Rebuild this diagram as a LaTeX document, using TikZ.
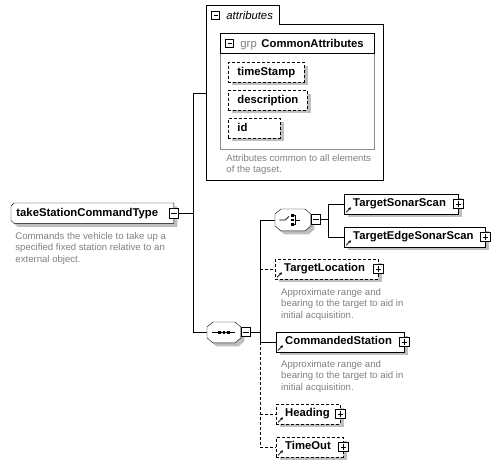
\documentclass[tikz,border=0pt]{standalone}
\usepackage{fontspec}
\setmainfont{Liberation Sans}
\usetikzlibrary{shadows,arrows.meta}
\pgfdeclarelayer{bg}
\pgfsetlayers{bg,main}

\begin{document}
\begin{tikzpicture}[x=1pt, y=-1pt, line width=0.9pt,
    shadowed/.style={drop shadow={shadow xshift=3.5pt, shadow yshift=-3.5pt, fill=black!25, opacity=1}},
    textbox/.style={anchor=north west, minimum height=19.5pt, inner xsep=9pt, inner ysep=0pt,
        align=left, text height=8.3pt, text depth=2.4pt, font=\fontsize{11.3}{13}\selectfont\bfseries},
    box/.style={textbox, draw, fill=white, shadowed},
    opt/.style={box, dash pattern=on 3pt off 2pt},
    comp/.style={anchor=north west, minimum width=35pt, minimum height=21pt, inner sep=0pt},
    pm/.style={draw, fill=white, solid, minimum size=9.5pt, inner sep=0pt, line width=0.8pt},
    plus/.style={pm, path picture={
        \draw ([xshift=2pt]path picture bounding box.west) -- ([xshift=-2pt]path picture bounding box.east)
              ([yshift=-2pt]path picture bounding box.north) -- ([yshift=2pt]path picture bounding box.south);}},
    minus/.style={pm, path picture={
        \draw ([xshift=2pt]path picture bounding box.west) -- ([xshift=-2pt]path picture bounding box.east);}},
    desc/.style={anchor=north west, inner sep=0pt, align=left, text=black!50, font=\fontsize{9.6}{11.5}\selectfont}]

    \useasboundingbox (0,0) rectangle (500,466);

    % Attributes tab box
    \draw (206,5) -- (279,5) -- (279,24) -- (383,24) -- (383,180) -- (206,180) -- cycle;
    \coordinate (attrin) at (206,93);
    \node[minus, minimum size=8pt] (attrm) at (215.5,15.5) {};
    \node[anchor=base west, inner sep=0pt, font=\fontsize{11.3}{13}\selectfont\itshape] (attrl) at (226,19.5) {attributes};

    % Attribute group
    \draw[black!45] (220,33) rectangle (374,149);
    \draw (220,33) rectangle (374,53);
    \node[minus, minimum size=8pt] (grpm) at (229.5,43) {};
    \node[anchor=base west, inner sep=0pt, text=black!50, font=\fontsize{11.3}{13}\selectfont] (grpl) at (240,47.5) {grp};
    \node[anchor=base west, inner sep=0pt, font=\fontsize{11.3}{13}\selectfont\bfseries] (grpn) at (261,47.5) {CommonAttributes};

    \node[opt, text width=58pt] (tstamp) at (228,62) {timeStamp};
    \node[opt, text width=61pt] (descr) at (228,90) {description};
    \node[opt, text width=34pt] (ident) at (228,118) {id};
    \node[desc] (attrd) at (226,154) {Attributes common to all elements\\of the tagset.};

    % Root type
    \node[textbox, inner xsep=5pt, text width=152pt] (tsc) at (11,203) {takeStationCommandType};
    \node[minus] (tscm) at (tsc.east) {};
    \node[desc] (tscd) at (15,232) {Commands the vehicle to take up a\\specified fixed station relative to an\\external object.};

    % Compositors
    \node[comp] (choice) at (275,209) {};
    \node[minus] (choicem) at (316,219.5) {};
    \node[comp, minimum width=33pt, minimum height=20pt] (seq) at (207,322) {};
    \node[minus] (seqm) at (246,332) {};

    % cut corner outlines
    \begin{pgfonlayer}{bg}
        \draw[fill=white, shadowed] ([xshift=3pt]tsc.north west) -- (tsc.north east) -- (tsc.south east)
            -- ([xshift=3pt]tsc.south west) -- ([yshift=3pt]tsc.south west) -- ([yshift=-3pt]tsc.north west) -- cycle;
        \foreach \n in {choice,seq}
            \draw[fill=white, shadowed] ([xshift=6pt]\n.north west) -- ([xshift=-6pt]\n.north east)
                -- ([yshift=-5pt]\n.north east) -- ([yshift=5pt]\n.south east) -- ([xshift=-6pt]\n.south east)
                -- ([xshift=6pt]\n.south west) -- ([yshift=5pt]\n.south west) -- ([yshift=-5pt]\n.north west) -- cycle;
    \end{pgfonlayer}

    % choice symbol
    \draw[line width=0.8pt] ([shift={(-13.5,0)}]choice.center) -- ++(6,0) -- ++(3.5,-3.5);
    \foreach \dy in {-4.5,0,4.5}
        \fill ([shift={(-0.5,\dy)}]choice.center) +(-1.3,-1.3) rectangle +(1.3,1.3);
    \draw[line width=0.8pt] ([shift={(-0.5,-4.5)}]choice.center) -- ++(3,0) -- ++(0,9) -- ++(-3,0)
        ([shift={(2.5,0)}]choice.center) -- ++(4.5,0);

    % sequence symbol
    \draw[line width=0.8pt] ([shift={(-11.5,0)}]seq.center) -- ++(23,0);
    \foreach \dx in {-4.5,0,4.5}
        \fill ([shift={(\dx,0)}]seq.center) +(-1.3,-1.3) rectangle +(1.3,1.3);

    % Elements
    \node[box, text width=96pt] (tss) at (344,194) {TargetSonarScan};
    \node[box, text width=123pt] (tess) at (344,227) {TargetEdgeSonarScan};
    \node[opt, text width=85pt] (tloc) at (275,259) {TargetLocation};
    \node[desc] (tlocd) at (281,288) {Approximate range and\\bearing to the target to aid in\\initial acquisition.};
    \node[box, text width=110pt] (cmd) at (276,332) {CommandedStation};
    \node[desc] (cmdd) at (281,360) {Approximate range and\\bearing to the target to aid in\\initial acquisition.};
    \node[opt, text width=46pt] (head) at (276,404) {Heading};
    \node[opt, text width=49pt] (tout) at (276,437) {TimeOut};

    \foreach \n in {tss,tess,tloc,cmd,head,tout} {
        \node[plus] (\n p) at (\n.east) {};
        \draw[solid, line width=0.7pt, -{Stealth[length=3pt,width=3pt]}] ([shift={(2,-1.5)}]\n.south west) -- ++(5,-5);
    }

    % Connectors
    \draw (tscm.east) -- ++(14,0) coordinate (bus);
    \draw (bus |- attrin) -- (bus |- seq.west);
    \draw (bus |- attrin) -- (attrin);
    \draw (bus |- seq.west) -- (seq.west);

    \draw (seqm.east) -- ++(9,0) coordinate (sbus);
    \draw (sbus |- choice.west) -- (sbus |- cmd.west);
    \draw[dash pattern=on 3pt off 2pt] (sbus |- cmd.west) -- (sbus |- tout.west);
    \draw (sbus |- choice.west) -- (choice.west);
    \draw[dash pattern=on 3pt off 2pt] (sbus |- tloc.west) -- (tloc.west);
    \draw (sbus |- cmd.west) -- (cmd.west);
    \draw[dash pattern=on 3pt off 2pt] (sbus |- head.west) -- (head.west);
    \draw[dash pattern=on 3pt off 2pt] (sbus |- tout.west) -- (tout.west);

    \draw (choicem.east) -- ++(7,0) coordinate (cbus);
    \draw (cbus |- tss.west) -- (cbus |- tess.west);
    \draw (cbus |- tss.west) -- (tss.west);
    \draw (cbus |- tess.west) -- (tess.west);
\end{tikzpicture}
\end{document}
